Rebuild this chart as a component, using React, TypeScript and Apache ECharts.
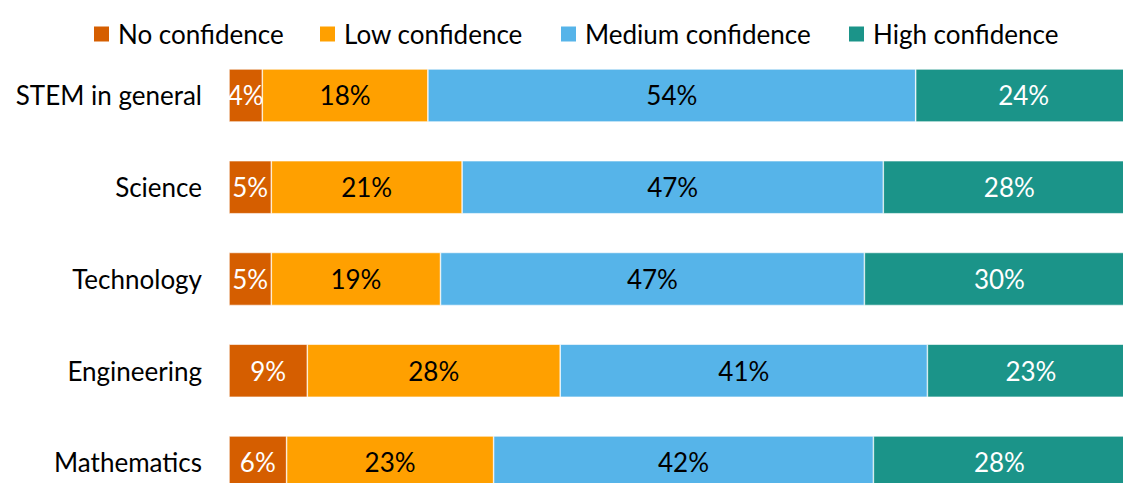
import React, { useEffect, useRef } from "react";
import * as echarts from "echarts";

const categories = ["STEM in general", "Science", "Technology", "Engineering", "Mathematics"];
const seriesNames = ["No confidence", "Low confidence", "Medium confidence", "High confidence"];
const noConfidence = [3.7, 4.7, 4.7, 8.7, 6.4];
const lowConfidence = [18.4, 21.2, 18.8, 28.1, 23.0];
const mediumConfidence = [54.2, 46.8, 47.1, 40.8, 42.2];
const highConfidence = [24, 28, 30, 23, 28];
const colors = ["#D55E00", "#FFA000", "#56B4E9", "#1B9489"];
const labelColors = ["#ffffff", "#000000", "#000000", "#ffffff"];
const legendLefts = [92, 318, 559, 847];

const FONT = "Lato, 'Open Sans', sans-serif";
const FS = 26;

export default function App() {
  const ref = useRef<HTMLDivElement>(null);
  useEffect(() => {
    document.body.style.margin = "0";
    const chart = echarts.init(ref.current!, null, { renderer: "svg" });
    const values = [noConfidence, lowConfidence, mediumConfidence, highConfidence];
    chart.setOption({
      animation: false,
      textStyle: { fontFamily: FONT },
      legend: seriesNames.map((n, i) => ({
        data: [n],
        left: legendLefts[i],
        top: 21,
        padding: 0,
        itemWidth: 17,
        itemHeight: 17,
        icon: "rect",
        textStyle: { fontSize: FS, color: "#000", fontFamily: FONT, padding: [0, 0, 0, 3] },
      })),
      grid: { left: 229, top: 49.6, width: 909, height: 458.75, containLabel: false },
      xAxis: {
        type: "value",
        min: 0,
        max: 101,
        show: false,
      },
      yAxis: {
        type: "category",
        data: categories,
        inverse: true,
        axisLine: { show: false },
        axisTick: { show: false },
        axisLabel: { fontSize: FS, color: "#000", margin: 27, fontFamily: FONT },
      },
      series: seriesNames.map((n, i) => ({
        name: n,
        type: "bar",
        stack: "total",
        barWidth: 53,
        data: values[i],
        itemStyle: { color: colors[i], borderColor: "#ffffff", borderWidth: 0.6 },
        label: {
          show: true,
          position: "inside",
          formatter: (p: any) => Math.round(p.value) + "%",
          fontSize: FS,
          color: labelColors[i],
          fontFamily: FONT,
        },
      })),
    });
    return () => chart.dispose();
  }, []);
  return (
    <div style={{ width: 1123, height: 483, overflow: "hidden", position: "relative" }}>
      <div ref={ref} style={{ width: 1200, height: 540 }} />
    </div>
  );
}
